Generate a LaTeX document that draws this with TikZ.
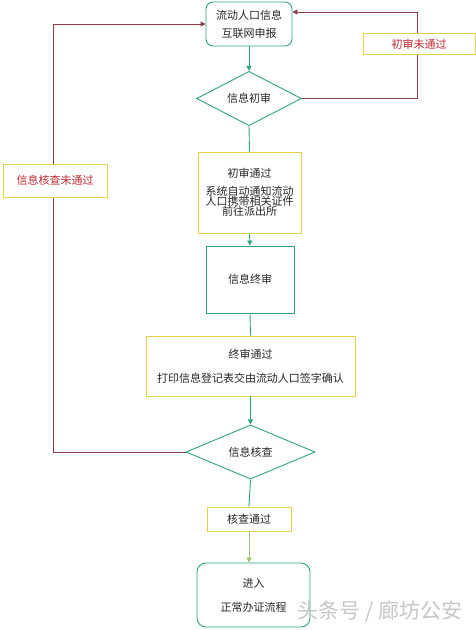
\documentclass[tikz,border=0pt]{standalone}
\usepackage{fontspec}
\setmainfont{Noto Sans CJK SC}
\usetikzlibrary{shapes.geometric,arrows.meta}
\definecolor{gline}{HTML}{2FA57C}
\definecolor{rline}{HTML}{8E3B47}
\definecolor{ybord}{HTML}{E6D24A}
\definecolor{rtext}{HTML}{C4262E}
\definecolor{lgreen}{HTML}{9CC56B}
\begin{document}
\begin{tikzpicture}[x=1pt,y=-1pt,
  font=\fontsize{11}{13}\selectfont,
  gbox/.style={draw=gline,line width=0.9pt,fill=white,inner sep=0pt,align=center,text=black!85},
  ybox/.style={draw=ybord,line width=0.9pt,fill=white,inner sep=0pt,align=center,text=black!85},
  lbl/.style={draw=ybord,line width=0.9pt,fill=white,inner sep=0pt,align=center,text=rtext},
  gdia/.style={draw=gline,line width=0.9pt,diamond,fill=white,inner sep=0pt,text=black!85},
  garrow/.style={draw=gline,line width=0.9pt,-{Triangle[length=5pt,width=5pt]}},
  rarrow/.style={draw=rline,line width=0.9pt,-{Triangle[length=5pt,width=5pt]}},
  gplain/.style={draw=gline,line width=0.9pt}
]
\useasboundingbox (0,0) rectangle (475,630);
\fill[white] (0,0) rectangle (475,630);

\node[gbox,rounded corners=7pt,minimum width=86pt,minimum height=44pt] (b1) at (249,24) {流动人口信息\\[5pt]互联网申报};
\node[gdia,minimum width=105pt,minimum height=43pt] (d1) at (249,98.5) {信息初审};
\node[ybox,minimum width=103pt,minimum height=81pt] (b2) at (249.5,192.5) {初审通过\\[5pt]系统自动通知流动\\[-3pt]人口携带相关证件\\[-3pt]前往派出所};
\node[gbox,minimum width=88pt,minimum height=67pt] (b3) at (250,279.5) {信息终审};
\node[ybox,minimum width=209pt,minimum height=60pt] (b4) at (250.5,366) {终审通过\\[11pt]打印信息登记表交由流动人口签字确认};
\node[gdia,minimum width=129pt,minimum height=51pt] (d2) at (250.5,452) {信息核查};
\node[ybox,minimum width=84pt,minimum height=24pt] (b5) at (249,519) {核查通过};
\node[gbox,rounded corners=9pt,minimum width=113pt,minimum height=64pt] (b6) at (253.5,595) {进入\\[11pt]正常办证流程};

\draw[garrow] (b1.south) -- (d1.north);
\draw[gplain] (d1.south) -- (b2.north);
\draw[garrow] (b2.south) -- (b3.north);
\draw[gplain] (b3.south) -- (b4.north);
\draw[garrow] (b4.south) -- (d2.north);
\draw[gplain] (d2.south) -- (b5.north);
\draw[draw=lgreen,line width=0.9pt,-{Triangle[length=5pt,width=5pt]}] (b5.south) -- (b5.south |- b6.north);

\coordinate (c1) at (417,98.5);
\coordinate (c2) at (417,12);
\draw[rarrow] (d1.east) -- (c1) -- (c2) -- (c2 -| b1.east);
\node[lbl,minimum width=112pt,minimum height=21pt] (l1) at (419,44) {初审未通过};

\coordinate (c3) at (53,452);
\coordinate (c4) at (53,24);
\draw[rarrow] (d2.west) -- (c3) -- (c4) -- (b1.west);
\node[lbl,minimum width=104pt,minimum height=33pt] (l2) at (55,180.5) {信息核查未通过};

\node[text=gray!55,opacity=0.8,font=\fontsize{21}{24}\selectfont] (wm) at (380,611) {头条号 / 廊坊公安};
\end{tikzpicture}
\end{document}
